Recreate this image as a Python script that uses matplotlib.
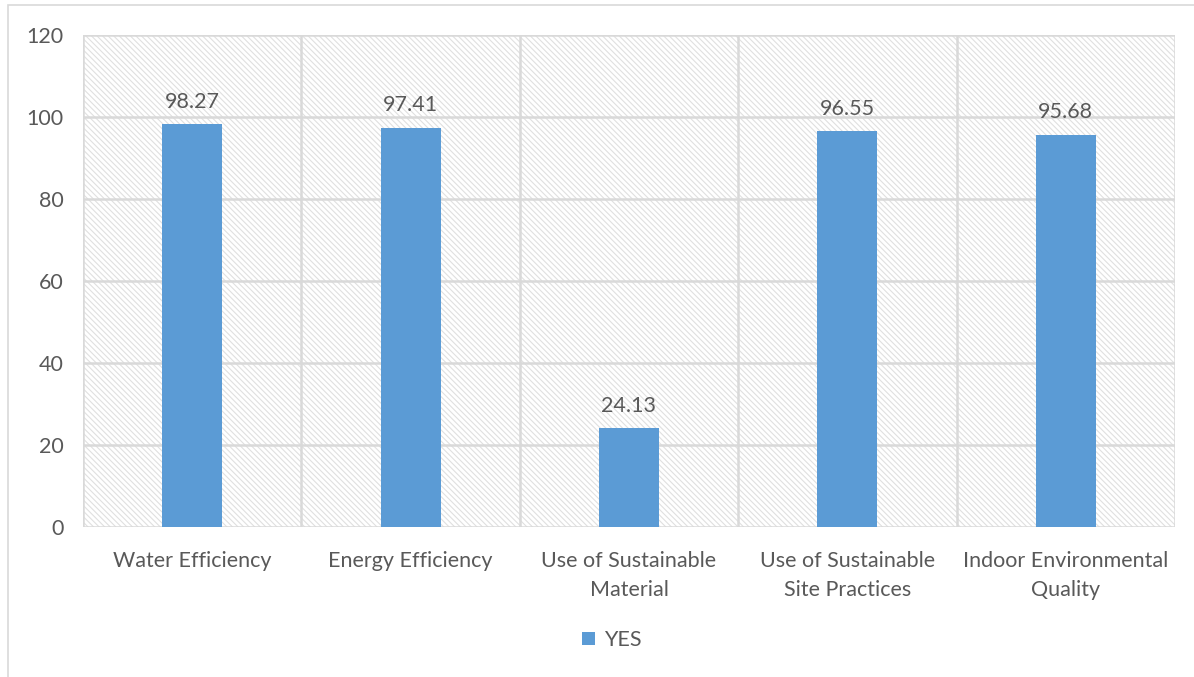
import matplotlib.pyplot as plt
from matplotlib.patches import Rectangle

categories = ["Water Efficiency", "Energy Efficiency", "Use of Sustainable\nMaterial",
              "Use of Sustainable\nSite Practices", "Indoor Environmental\nQuality"]
yes_values = [98.27, 97.41, 24.13, 96.55, 95.68]
y_ticks = [0, 20, 40, 60, 80, 100, 120]

bar_color = "#5b9bd5"
grid_color = "#d9d9d9"
text_color = "#595959"

plt.rcParams['font.family'] = ['Lato', 'DejaVu Sans']
plt.rcParams['hatch.linewidth'] = 0.8
plt.rcParams['hatch.color'] = "#e0e0e0"

fig = plt.figure(figsize=(11.94, 6.77), dpi=100)
fig.patches.append(Rectangle((8 / 1194, -0.01), 1.02, 1 - 5 / 677 + 0.01, transform=fig.transFigure,
                             fill=False, edgecolor=grid_color, linewidth=1.2))

ax = fig.add_axes([83 / 1194, 1 - 527 / 677, (1175 - 83) / 1194, (527 - 35) / 677])
ax.set_facecolor("white")

# diagonal hatched background of the plot area
ax.add_patch(Rectangle((0, 0), 1, 1, transform=ax.transAxes, facecolor="white",
                       edgecolor="#e0e0e0", hatch="\\" * 6, linewidth=0, zorder=0))

x = list(range(len(categories)))
bars = ax.bar(x, yes_values, width=0.275, color=bar_color, label="YES", zorder=3)

for xi, v in zip(x, yes_values):
    ax.text(xi, v + 3, f"{v:.2f}", ha="center", va="bottom", fontsize=15.5, color=text_color, zorder=4)

ax.set_xlim(-0.5, len(categories) - 0.5)
ax.set_ylim(0, 120)
ax.set_yticks(y_ticks)
ax.set_xticks(x)
ax.set_xticklabels(categories, fontsize=15.5, color=text_color, linespacing=1.6)
ax.tick_params(axis="y", labelsize=15.5, labelcolor=text_color, length=0, pad=14)
ax.tick_params(axis="x", length=0, pad=17)

# horizontal and category-boundary grid lines
for t in y_ticks:
    ax.axhline(t, color=grid_color, linewidth=1.8, zorder=1)
for b in range(len(categories) + 1):
    ax.axvline(b - 0.5, color=grid_color, linewidth=1.8, zorder=1)
for s in ax.spines.values():
    s.set_visible(False)

fig.legend(handles=[bars], labels=["YES"], loc="center", bbox_to_anchor=(612 / 1194, 1 - 640 / 677),
           frameon=False, fontsize=15.5, labelcolor=text_color, handlelength=0.6, handleheight=0.6,
           handletextpad=0.4)

fig.savefig("out.png", dpi=100)
